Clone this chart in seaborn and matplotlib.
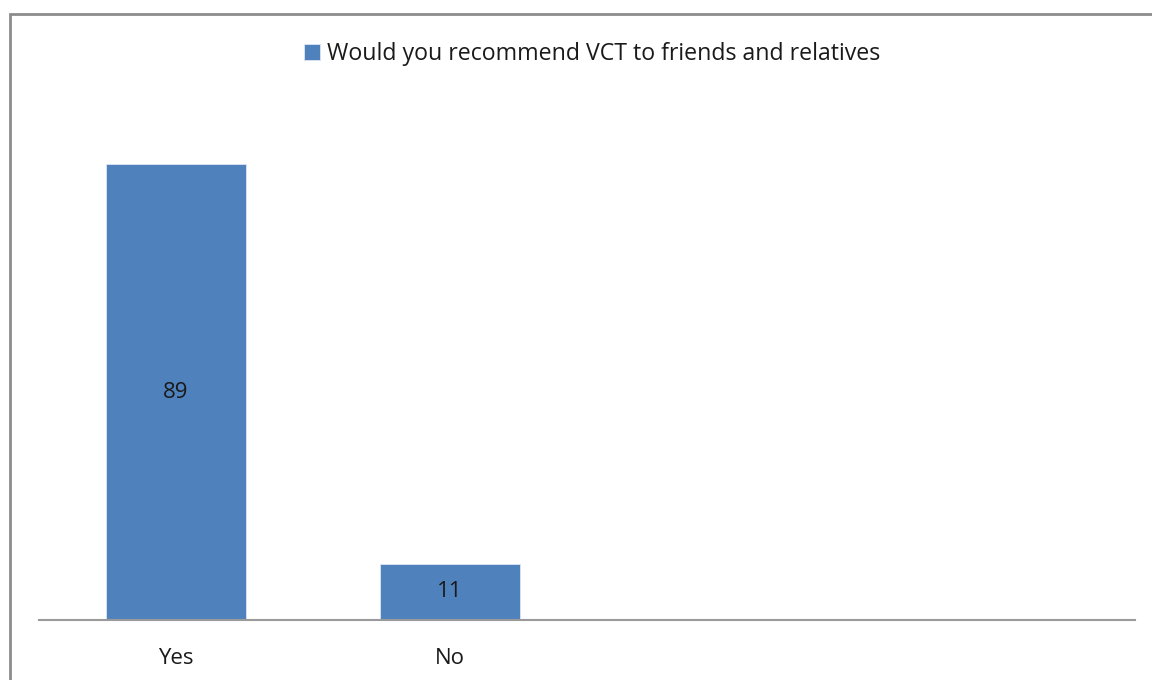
import matplotlib
matplotlib.use("Agg")
import matplotlib.pyplot as plt
import pandas as pd
import seaborn as sns
from matplotlib.patches import Rectangle

categories = ["Yes", "No"]
values = [89, 11]
series_label = "Would you recommend VCT to friends and relatives"
n_slots = 4  # chart reserves four category slots, only two are filled

bar_color = "#4F81BD"

sns.set_theme(style="white")
plt.rcParams["font.family"] = ["Open Sans", "DejaVu Sans"]

df = pd.DataFrame({"answer": categories, "pct": values})

fig = plt.figure(figsize=(11.52, 6.8), dpi=100)
ax = fig.add_axes([39 / 1152, 60 / 680, 1096 / 1152, 512 / 680])

sns.barplot(data=df, x="answer", y="pct", color=bar_color, width=0.51,
            saturation=1, edgecolor="#dce6f2", linewidth=0.6,
            label=series_label, ax=ax)

for bar, v in zip(ax.patches, values):
    ax.text(bar.get_x() + bar.get_width() / 2, v / 2, str(v),
            ha="center", va="center", fontsize=16, color="#1a1a1a")

ax.set_xlim(-0.5, n_slots - 0.5)
ax.set_ylim(0, 100)
ax.set_xlabel("")
ax.set_ylabel("")
ax.set_yticks([])
ax.tick_params(axis="x", length=0, pad=20, labelsize=16, labelcolor="#1a1a1a")
for side in ["top", "right", "left"]:
    ax.spines[side].set_visible(False)
ax.spines["bottom"].set_color("#9a9a9a")
ax.spines["bottom"].set_linewidth(1.5)

leg = ax.legend(loc="center", bbox_to_anchor=(592 / 1152, 1 - 54 / 680),
                bbox_transform=fig.transFigure, frameon=False, fontsize=16.7,
                handlelength=0.72, handleheight=0.72, handletextpad=0.3)
for t in leg.get_texts():
    t.set_color("#1a1a1a")

# outer chart border (top and left edges visible in the crop)
fig.patches.append(Rectangle((10 / 1152, -0.1), 1.2, 1 - 14 / 680 + 0.1,
                             transform=fig.transFigure, fill=False,
                             edgecolor="#8c8c8c", linewidth=2))

fig.savefig("out.png", dpi=100)
